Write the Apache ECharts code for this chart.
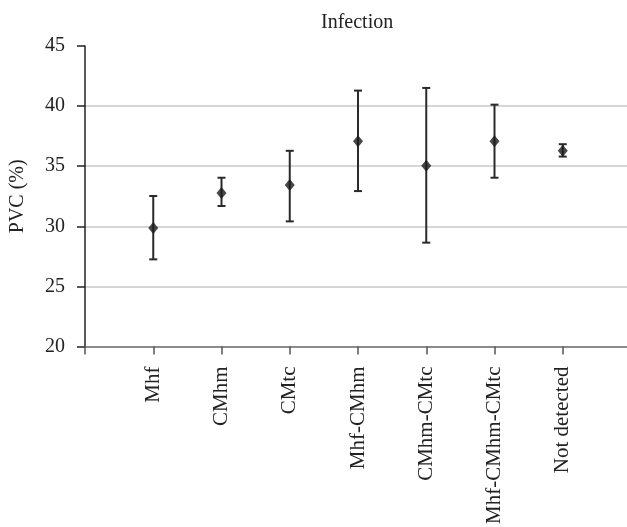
<!DOCTYPE html>
<html>
<head>
<meta charset="utf-8">
<script src="https://cdn.jsdelivr.net/npm/echarts@6/dist/echarts.min.js"></script>
<style>
html,body{margin:0;padding:0;background:#fff;overflow:hidden;}
#chart{width:640px;height:527px;}
</style>
</head>
<body>
<div id="chart"></div>
<script>
const categories = ['Mhf', 'CMhm', 'CMtc', 'Mhf-CMhm', 'CMhm-CMtc', 'Mhf-CMhm-CMtc', 'Not detected'];
const means = [29.85, 32.77, 33.43, 37.08, 35.03, 37.08, 36.28];
const lowers = [27.25, 31.69, 30.41, 32.93, 28.64, 34.04, 35.80];
const uppers = [32.52, 34.04, 36.28, 41.29, 41.51, 40.12, 36.83];
const yTicks = { min: 20, max: 45, interval: 5 };

const axisCats = [''].concat(categories, ['']);
const pointData = means.map((v, i) => [i + 1, v]);
const barData = lowers.map((lo, i) => [i + 1, lo, uppers[i]]);

const FONT = '"Liberation Serif", "DejaVu Serif", serif';
const chart = echarts.init(document.getElementById('chart'));
chart.setOption({
  animation: false,
  backgroundColor: '#fff',
  title: {
    text: 'Infection',
    left: 316, top: 8,
    textStyle: { fontFamily: FONT, fontSize: 20, fontWeight: 'normal', color: '#222' }
  },
  grid: { left: 85, right: 9, top: 46, bottom: 180, containLabel: false },
  xAxis: {
    type: 'category',
    data: axisCats,
    boundaryGap: false,
    axisLine: { lineStyle: { color: '#666', width: 1.5 } },
    axisTick: { show: true, length: 8, alignWithLabel: true, lineStyle: { color: '#555', width: 1.5 } },
    axisLabel: {
      rotate: 90, interval: 0, margin: 20,
      fontFamily: FONT, fontSize: 21, color: '#222'
    },
    splitLine: { show: false }
  },
  yAxis: {
    type: 'value',
    min: yTicks.min, max: yTicks.max, interval: yTicks.interval,
    name: 'PVC (%)',
    nameLocation: 'middle',
    nameGap: 57,
    nameTextStyle: { fontFamily: FONT, fontSize: 20, color: '#222' },
    axisLine: { show: true, lineStyle: { color: '#222', width: 1.5 } },
    axisTick: { show: true, length: 8, lineStyle: { color: '#222', width: 1.5 } },
    axisLabel: { margin: 20, fontFamily: FONT, fontSize: 20, color: '#222' },
    splitLine: { show: true, showMaxLine: false, showMinLine: false, lineStyle: { color: '#c8c8c8', width: 1.5 } }
  },
  series: [
    {
      type: 'custom',
      data: barData,
      renderItem: function (params, api) {
        const x = api.value(0);
        const lo = api.coord([x, api.value(1)]);
        const hi = api.coord([x, api.value(2)]);
        const w = 4;
        const style = { stroke: '#2a2a2a', lineWidth: 2 };
        return {
          type: 'group',
          children: [
            { type: 'line', shape: { x1: lo[0], y1: lo[1], x2: hi[0], y2: hi[1] }, style: style },
            { type: 'line', shape: { x1: lo[0] - w, y1: lo[1], x2: lo[0] + w, y2: lo[1] }, style: style },
            { type: 'line', shape: { x1: hi[0] - w, y1: hi[1], x2: hi[0] + w, y2: hi[1] }, style: style }
          ]
        };
      },
      z: 2
    },
    {
      type: 'scatter',
      data: pointData,
      symbol: 'diamond',
      symbolSize: [10, 12],
      itemStyle: { color: '#1a1a1a' },
      z: 3
    }
  ]
});
</script>
</body>
</html>
